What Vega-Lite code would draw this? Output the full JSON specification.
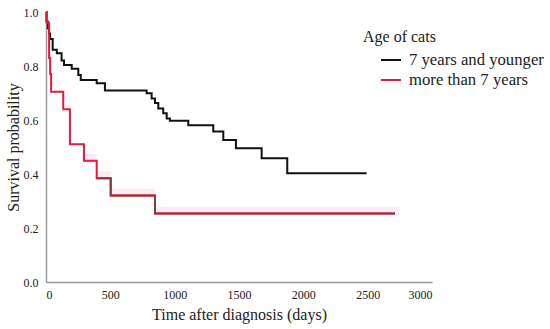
{
  "$schema": "https://vega.github.io/schema/vega-lite/v6.json",
  "width": 386,
  "height": 270,
  "autosize": {"type": "none"},
  "padding": {"left": 46, "top": 12, "right": 118, "bottom": 47},
  "config": {
    "font": "Liberation Serif",
    "view": {"stroke": null},
    "axis": {
      "domainColor": "#9a9a9a",
      "domainWidth": 1.5,
      "ticks": false,
      "grid": false,
      "labelFont": "Liberation Serif",
      "labelFontSize": 12,
      "labelColor": "#222222",
      "titleFontSize": 16,
      "titleFontWeight": "normal",
      "titleColor": "#222222"
    }
  },
  "datasets": {
    "km": [
      {"group": "7 years and younger", "t": 0, "s": 1.0},
      {"group": "7 years and younger", "t": 4, "s": 0.965},
      {"group": "7 years and younger", "t": 14, "s": 0.94},
      {"group": "7 years and younger", "t": 24, "s": 0.92},
      {"group": "7 years and younger", "t": 32, "s": 0.9},
      {"group": "7 years and younger", "t": 52, "s": 0.86},
      {"group": "7 years and younger", "t": 84, "s": 0.847},
      {"group": "7 years and younger", "t": 121, "s": 0.82},
      {"group": "7 years and younger", "t": 140, "s": 0.804},
      {"group": "7 years and younger", "t": 200, "s": 0.79},
      {"group": "7 years and younger", "t": 251, "s": 0.767},
      {"group": "7 years and younger", "t": 270, "s": 0.748},
      {"group": "7 years and younger", "t": 394, "s": 0.736},
      {"group": "7 years and younger", "t": 458, "s": 0.709},
      {"group": "7 years and younger", "t": 782, "s": 0.699},
      {"group": "7 years and younger", "t": 821, "s": 0.68},
      {"group": "7 years and younger", "t": 847, "s": 0.663},
      {"group": "7 years and younger", "t": 873, "s": 0.643},
      {"group": "7 years and younger", "t": 911, "s": 0.625},
      {"group": "7 years and younger", "t": 938, "s": 0.606},
      {"group": "7 years and younger", "t": 963, "s": 0.597},
      {"group": "7 years and younger", "t": 1106, "s": 0.581},
      {"group": "7 years and younger", "t": 1300, "s": 0.557},
      {"group": "7 years and younger", "t": 1378, "s": 0.526},
      {"group": "7 years and younger", "t": 1476, "s": 0.495},
      {"group": "7 years and younger", "t": 1676, "s": 0.458},
      {"group": "7 years and younger", "t": 1875, "s": 0.403},
      {"group": "7 years and younger", "t": 2492, "s": 0.403},
      {"group": "more than 7 years", "t": 0, "s": 1.0},
      {"group": "more than 7 years", "t": 6, "s": 0.96},
      {"group": "more than 7 years", "t": 24, "s": 0.83},
      {"group": "more than 7 years", "t": 32, "s": 0.77},
      {"group": "more than 7 years", "t": 40, "s": 0.705},
      {"group": "more than 7 years", "t": 134, "s": 0.64},
      {"group": "more than 7 years", "t": 186, "s": 0.51},
      {"group": "more than 7 years", "t": 295, "s": 0.449},
      {"group": "more than 7 years", "t": 394, "s": 0.384},
      {"group": "more than 7 years", "t": 503, "s": 0.32},
      {"group": "more than 7 years", "t": 847, "s": 0.254},
      {"group": "more than 7 years", "t": 2712, "s": 0.254}
    ],
    "band": [
      {"t": 295, "lo": 0.44, "hi": 0.474},
      {"t": 394, "lo": 0.376, "hi": 0.41},
      {"t": 503, "lo": 0.312, "hi": 0.345},
      {"t": 847, "lo": 0.247, "hi": 0.279},
      {"t": 2750, "lo": 0.247, "hi": 0.279}
    ]
  },
  "layer": [
    {
      "data": {"name": "band"},
      "mark": {"type": "area", "interpolate": "step-after", "color": "#fdebf6", "opacity": 1},
      "encoding": {
        "x": {"field": "t", "type": "quantitative", "scale": {"domain": [0, 3000], "nice": false},
              "title": "Time after diagnosis (days)",
              "axis": {"values": [0, 500, 1000, 1500, 2000, 2500, 3000], "format": "d", "labelPadding": 7, "titlePadding": 6}},
        "y": {"field": "hi", "type": "quantitative", "scale": {"domain": [0, 1], "nice": false},
              "title": "Survival probability",
              "axis": {"values": [0, 0.2, 0.4, 0.6, 0.8, 1.0], "format": ".1f", "labelPadding": 8, "titlePadding": 2}},
        "y2": {"field": "lo"}
      }
    },
    {
      "data": {"name": "km"},
      "mark": {"type": "line", "interpolate": "step-after", "strokeWidth": 2},
      "encoding": {
        "x": {"field": "t", "type": "quantitative", "title": "Time after diagnosis (days)"},
        "y": {"field": "s", "type": "quantitative", "title": "Survival probability"},
        "color": {
          "field": "group", "type": "nominal",
          "scale": {"domain": ["7 years and younger", "more than 7 years"], "range": ["#111111", "#e8193c"]},
          "legend": {
            "title": "Age of cats",
            "orient": "none",
            "legendX": 317,
            "legendY": 17,
            "padding": 0,
            "titleFontSize": 16,
            "titleFontWeight": "normal",
            "titleColor": "#222222",
            "titlePadding": 4,
            "labelFont": "Liberation Serif",
            "labelFontSize": 16.7,
            "labelColor": "#222222",
            "labelOffset": 7,
            "labelLimit": 200,
            "symbolType": "stroke",
            "symbolSize": 400,
            "symbolStrokeWidth": 2,
            "symbolOffset": 17,
            "rowPadding": -3
          }
        }
      }
    },
    {
      "data": {"name": "km"},
      "transform": [{"filter": "datum.group == 'more than 7 years' && datum.t >= 394"}],
      "mark": {"type": "line", "interpolate": "step-after", "strokeWidth": 2, "color": "#8b3a3a"},
      "encoding": {
        "x": {"field": "t", "type": "quantitative", "title": "Time after diagnosis (days)"},
        "y": {"field": "s", "type": "quantitative", "title": "Survival probability"}
      }
    }
  ]
}
